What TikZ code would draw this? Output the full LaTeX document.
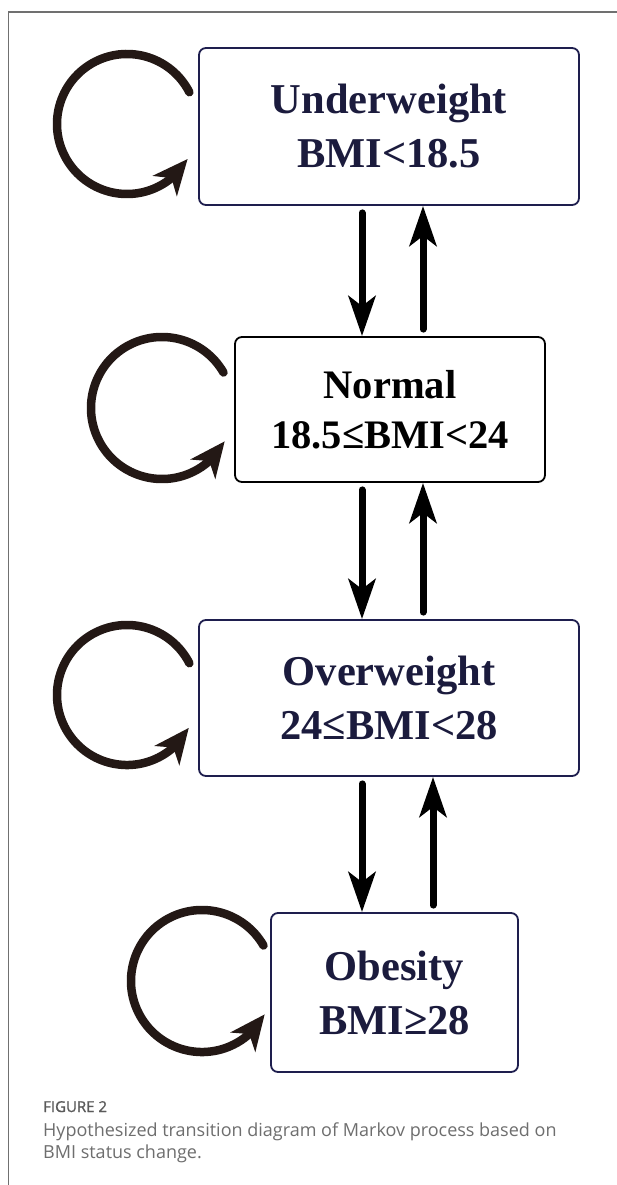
\documentclass[tikz,border=0pt]{standalone}
\usepackage{fontspec}
\newfontfamily\boxfont{Liberation Serif}
\newfontfamily\capfont{Open Sans}
\newfontfamily\figfont{Open Sans}[RawFeature={embolden=1.2}]
\usetikzlibrary{arrows.meta,bending}
\definecolor{navy}{HTML}{1B1B3D}
\definecolor{navyline}{HTML}{1E1E4E}
\definecolor{loopc}{HTML}{231815}
\definecolor{framec}{HTML}{707070}
\definecolor{capc}{HTML}{6E6E6E}
\definecolor{figc}{HTML}{5A5A5A}
\begin{document}
\begin{tikzpicture}[x=1pt,y=-1pt,
  box/.style={draw=navyline, line width=1.8pt, rounded corners=7pt, align=center,
    inner sep=0pt, text=navy, font=\boxfont\bfseries\fontsize{42.5}{54}\selectfont},
  tarrow/.style={draw=black, line width=7pt, line cap=round, shorten <=7pt,
    -{Stealth[length=40pt,width=27pt,inset=10pt]}},
  selfloop/.style={draw=loopc, line width=8.5pt, line cap=round,
    -{Stealth[length=35pt,width=31pt,inset=10pt]}},
  capt/.style={anchor=base west, inner sep=0pt, text=capc, font=\capfont\fontsize{18}{22}\selectfont},
  figt/.style={anchor=base west, inner sep=0pt, text=figc, font=\figfont\fontsize{15}{18}\selectfont}
]
\useasboundingbox (0,0) rectangle (617,1185);
\fill[white] (0,0) rectangle (617,1185);
% frame
\draw[framec, line width=1.5pt] (8.5,1185) -- (8.5,12) -- (617,12);

% boxes
\node[box, minimum width=380pt, minimum height=157pt] (b1) at (389,126.5)
  {Underweight\\BMI<18.5};
\node[box, draw=black, text=black, minimum width=310pt, minimum height=145pt,
  font=\boxfont\bfseries\fontsize{40.5}{50}\selectfont] (b2) at (390,409.5)
  {Normal\\18.5≤BMI<24};
\node[box, minimum width=380pt, minimum height=156pt] (b3) at (389,698)
  {Overweight\\24≤BMI<28};
\node[box, minimum width=247pt, minimum height=159pt] (b4) at (394.5,992.5)
  {Obesity\\BMI≥28};

% arrow columns
\coordinate (xd) at (362,0);
\coordinate (xu) at (423,0);
\coordinate (xv) at (433,0);

\draw[tarrow] (b1.south -| xd) -- (b2.north -| xd);
\draw[tarrow] (b2.north -| xu) -- (b1.south -| xu);
\draw[tarrow] (b2.south -| xd) -- (b3.north -| xd);
\draw[tarrow] (b3.north -| xu) -- (b2.south -| xu);
\draw[tarrow] (b3.south -| xd) -- (b4.north -| xd);
\draw[tarrow] (b4.north -| xv) -- (b3.south -| xv);

% self loops
\coordinate (c1) at (127,124);
\coordinate (c2) at (162,408);
\coordinate (c3) at (127,695);
\coordinate (c4) at (202,981);
\draw[selfloop] (c1) ++(27:70pt) arc[start angle=27, end angle=330, radius=70pt];
\draw[selfloop] (c2) ++(30:71pt) arc[start angle=30, end angle=332, radius=71pt];
\draw[selfloop] (c3) ++(27:70pt) arc[start angle=27, end angle=332, radius=70pt];
\draw[selfloop] (c4) ++(30:71pt) arc[start angle=30, end angle=332, radius=71pt];

% caption
\node[figt] (fig) at (43,1112) {FIGURE 2};
\node[capt] (cap1) at (43,1136) {Hypothesized transition diagram of Markov process based on};
\node[capt] (cap2) at (43,1158) {BMI status change.};
\end{tikzpicture}
\end{document}
